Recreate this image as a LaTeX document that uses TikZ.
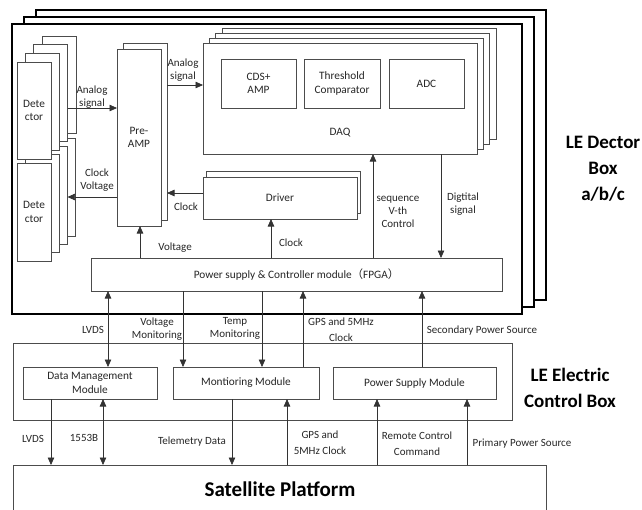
\documentclass[tikz,border=0pt]{standalone}
\usepackage{fontspec}
\setmainfont{Carlito}
\newfontfamily\cjk{Noto Sans CJK SC}
\usetikzlibrary{arrows.meta}
\begin{document}
\begin{tikzpicture}[x=1pt,y=-1pt,
  box/.style={draw=black!70, line width=0.75pt, fill=white, inner sep=0pt, outer sep=0pt,
    anchor=north west, align=center, font=\fontsize{11.3}{13.5}\selectfont, text=black!85},
  bigbox/.style={draw=black, line width=1.5pt, fill=white, inner sep=0pt, outer sep=0pt, anchor=north west},
  arr/.style={-{Triangle[length=7.5pt,width=6.5pt]}, line width=0.7pt, draw=black!80},
  darr/.style={{Triangle[length=7.5pt,width=6.5pt]}-{Triangle[length=7.5pt,width=6.5pt]}, line width=0.7pt, draw=black!80},
  lbl/.style={font=\fontsize{11}{13}\selectfont, align=center, text=black!85, inner sep=0pt},
  lblw/.style={font=\fontsize{11}{16}\selectfont, align=center, text=black!85, inner sep=0pt},
  title/.style={font=\fontsize{19}{26}\selectfont\bfseries, align=center, inner sep=0pt}
]
\useasboundingbox (0,0) rectangle (642,509);

% LE detector boxes a/b/c
\node[bigbox, minimum width=510pt, minimum height=290pt] (boxc) at (36,10) {};
\node[bigbox, minimum width=510pt, minimum height=290pt] (boxb) at (24,17) {};
\node[bigbox, minimum width=510pt, minimum height=290pt] (boxa) at (12,24) {};

% detector stacks (bottom first)
\node[box, minimum width=34pt, minimum height=98pt] (d2c) at (41.8,138) {};
\node[box, minimum width=34pt, minimum height=98pt] (d2b) at (33.5,146.3) {};
\node[box, minimum width=34pt, minimum height=98pt] (d2a) at (25.3,154.7) {};
\node[box, minimum width=34pt, minimum height=98pt] (det2) at (17,163) {Dete\\ctor};

\node[box, minimum width=34pt, minimum height=97pt] (d1c) at (42,36) {};
\node[box, minimum width=34pt, minimum height=97pt] (d1b) at (33.6,44.7) {};
\node[box, minimum width=34pt, minimum height=97pt] (d1a) at (25.3,53.3) {};
\node[box, minimum width=34pt, minimum height=97pt] (det1) at (17,62) {Dete\\ctor};

% Pre-AMP
\node[box, minimum width=44pt, minimum height=177pt] (preb) at (123,43) {};
\node[box, minimum width=44pt, minimum height=177pt] (pre) at (117,49) {Pre-\\AMP};

% DAQ
\node[box, minimum width=274pt, minimum height=111pt] (daqc) at (222,28) {};
\node[box, minimum width=274pt, minimum height=111pt] (daqb) at (215.6,33) {};
\node[box, minimum width=274pt, minimum height=111pt] (daqa) at (209.3,38) {};
\node[box, minimum width=274pt, minimum height=111pt] (daq) at (203,43) {};
\node[box, minimum width=75pt, minimum height=49pt] (cds) at (221,59) {CDS+\\AMP};
\node[box, minimum width=76pt, minimum height=49pt] (thr) at (304,59) {Threshold\\Comparator};
\node[box, minimum width=75pt, minimum height=49pt] (adc) at (389,59) {ADC};
\node[lbl, font=\fontsize{11.3}{13}\selectfont] (daql) at (340,133) {DAQ};

% Driver
\node[box, minimum width=154pt, minimum height=42pt] (drvb) at (206,171) {};
\node[box, minimum width=154pt, minimum height=42pt] (drv) at (203,177) {Driver};

% Power supply & controller
\node[box, minimum width=411pt, minimum height=33pt] (pwr) at (91,258)
  {Power supply \& Controller module{\cjk （}FPGA{\cjk ）}};

% LE electric control box
\node[box, minimum width=499pt, minimum height=77pt] (ecb) at (13,343) {};
\node[box, minimum width=134pt, minimum height=32pt] (dmm) at (23,367) {Data Management\\Module};
\node[box, minimum width=146pt, minimum height=32pt] (mon) at (173,367) {Montioring Module};
\node[box, minimum width=163pt, minimum height=32pt] (psm) at (333,367) {Power Supply Module};

% Satellite platform
\node[box, minimum width=533pt, minimum height=60pt] (sat) at (13,465) {};
\node[title, font=\fontsize{21}{24}\selectfont\bfseries] (satl) at (280,489) {Satellite Platform};

% titles
\node[title] (t1) at (603,169) {LE Dector\\Box\\a/b/c};
\node[title] (t2) at (570,388) {LE Electric\\Control Box};

% upper arrows
\draw[arr] (d1b.east |- 0,108) -- (pre.west |- 0,108);
\node[lbl] at (92,97) {Analog\\signal};
\draw[arr] (pre.west |- 0,197) -- (d2b.east |- 0,197);
\node[lbl] at (97,180) {Clock\\Voltage};
\draw[arr] (preb.east |- 0,85) -- (daq.west |- 0,85);
\node[lbl] at (183,70) {Analog\\signal};
\draw[arr] (drv.west |- 0,193) -- (preb.east |- 0,193);
\node[lbl] at (186,207) {Clock};
\draw[arr] (pwr.north -| 140,0) -- (pre.south -| 140,0);
\node[lbl] at (175,248) {Voltage};
\draw[arr] (pwr.north -| 271,0) -- (drv.south -| 271,0);
\node[lbl] at (291,243) {Clock};
\draw[arr] (pwr.north -| 373,0) -- (daq.south -| 373,0);
\node[lbl] at (398,212) {sequence\\V-th\\Control};
\draw[arr] (daq.south -| 441,0) -- (pwr.north -| 441,0);
\node[lbl] at (463,204) {Digtital\\signal};

% middle arrows
\draw[darr] (pwr.south -| 108,0) -- (dmm.north -| 108,0);
\node[lbl] at (93,330) {LVDS};
\draw[arr] (pwr.south -| 183,0) -- (mon.north -| 183,0);
\node[lbl] at (157,329) {Voltage\\Monitoring};
\draw[arr] (pwr.south -| 262,0) -- (mon.north -| 262,0);
\node[lbl] at (235,328) {Temp\\Monitoring};
\draw[arr] (mon.north -| 303,0) -- (pwr.south -| 303,0);
\node[lblw] at (341,330) {GPS and 5MHz\\Clock};
\draw[arr] (psm.north -| 422,0) -- (pwr.south -| 422,0);
\node[lbl] at (482,331) {Secondary Power Source};

% lower arrows
\draw[arr] (dmm.south -| 51,0) -- (sat.north -| 51,0);
\node[lbl] at (33,439) {LVDS};
\draw[darr] (dmm.south -| 103,0) -- (sat.north -| 103,0);
\node[lbl] at (84,438) {1553B};
\draw[arr] (mon.south -| 232,0) -- (sat.north -| 232,0);
\node[lbl] at (192,442) {Telemetry Data};
\draw[arr] (sat.north -| 287,0) -- (mon.south -| 287,0);
\node[lblw] at (320,443) {GPS and\\5MHz Clock};
\draw[arr] (sat.north -| 377,0) -- (psm.south -| 377,0);
\node[lblw] at (417,444) {Remote Control\\Command};
\draw[arr] (sat.north -| 467,0) -- (psm.south -| 467,0);
\node[lbl] at (522,444) {Primary Power Source};
\end{tikzpicture}
\end{document}
